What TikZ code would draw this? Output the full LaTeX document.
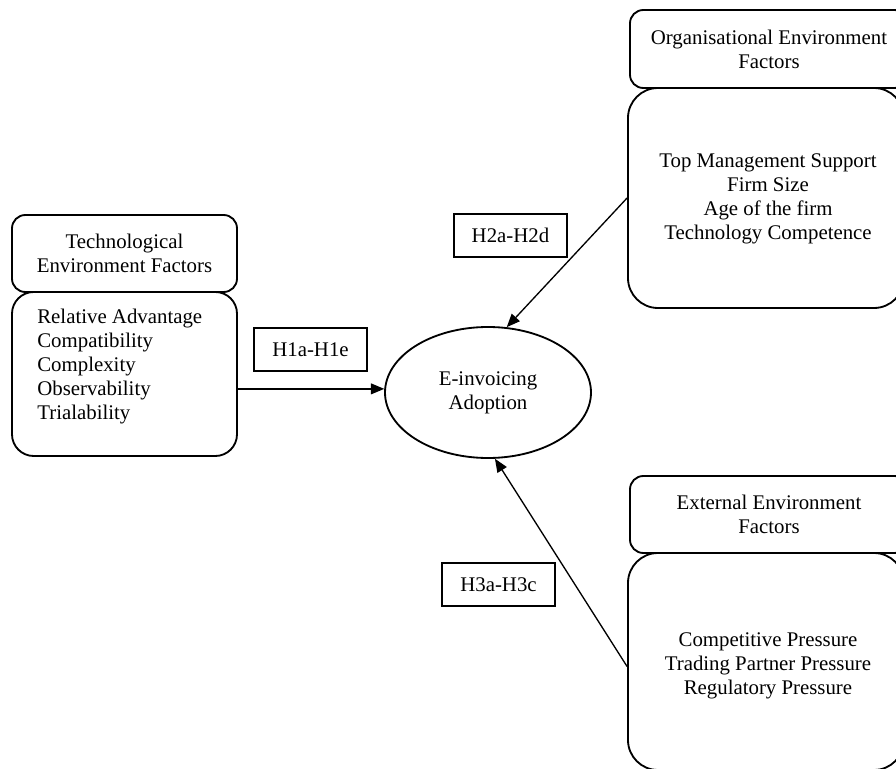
\documentclass[tikz,border=0pt]{standalone}
\usepackage{fontspec}
\setmainfont{Liberation Serif}
\usetikzlibrary{shapes.geometric,arrows.meta}
\begin{document}
\begin{tikzpicture}[x=0.6pt,y=-0.6pt,font=\fontsize{12.5}{14.4}\selectfont,>={Triangle[length=8pt,width=6.5pt]},
  headbox/.style={draw,line width=1.1pt,rounded corners=8pt,align=center,inner sep=0pt},
  listbox/.style={draw,line width=1.1pt,rounded corners=16pt,align=center,inner sep=0pt},
  hypbox/.style={draw,line width=0.8pt,inner sep=0pt,minimum width=67.8pt,minimum height=25.8pt},
  link/.style={->,line width=0.8pt}]
  \useasboundingbox (0,0) rectangle (896,769);
  \clip (0,0) rectangle (896,769);
  \node[headbox,minimum width=135pt,minimum height=46.2pt] (techhead) at (124.5,253.5) {Technological\\Environment Factors};
  \node[listbox,rounded corners=13pt,minimum width=135pt,minimum height=98.4pt] (techlist) at (124.5,374) {};
  \node[anchor=west,align=left,inner sep=0pt] (techitems) at (37,366.5) {Relative Advantage\\Compatibility\\Complexity\\Observability\\Trialability};
  \node[draw,ellipse,line width=1.1pt,inner sep=0pt,minimum width=123.6pt,minimum height=78.6pt,align=center] (adopt) at (488,392.5) {E-invoicing\\Adoption};
  \node[hypbox] (hone) at (310.5,349.5) {H1a-H1e};
  \node[hypbox] (htwo) at (510.5,235.5) {H2a-H2d};
  \node[hypbox] (hthree) at (498.5,584.5) {H3a-H3c};
  \node[headbox,minimum width=166.8pt,minimum height=46.8pt] (orghead) at (769,49) {Organisational Environment\\Factors};
  \node[listbox,rounded corners=18pt,minimum width=165.6pt,minimum height=132pt] (orglist) at (766,198) {};
  \node[align=center,inner sep=0pt] (orgitems) at (768,199) {Top Management Support\\Firm Size\\Age of the firm\\Technology Competence};
  \node[headbox,minimum width=166.8pt,minimum height=46.2pt] (exthead) at (769,514.5) {External Environment\\Factors};
  \node[listbox,rounded corners=18pt,minimum width=165.6pt,minimum height=130.2pt] (extlist) at (766,661.5) {};
  \node[align=center,inner sep=0pt] (extitems) at (768,666) {Competitive Pressure\\Trading Partner Pressure\\Regulatory Pressure};
  % hypotheses paths
  \draw[link] (techlist.east |- adopt.178) -- (adopt.178);
  \draw[link] (orglist.west) -- (adopt.74);
  \draw[link] ([yshift=-3pt]extlist.west) -- (adopt.-84);
\end{tikzpicture}
\end{document}
